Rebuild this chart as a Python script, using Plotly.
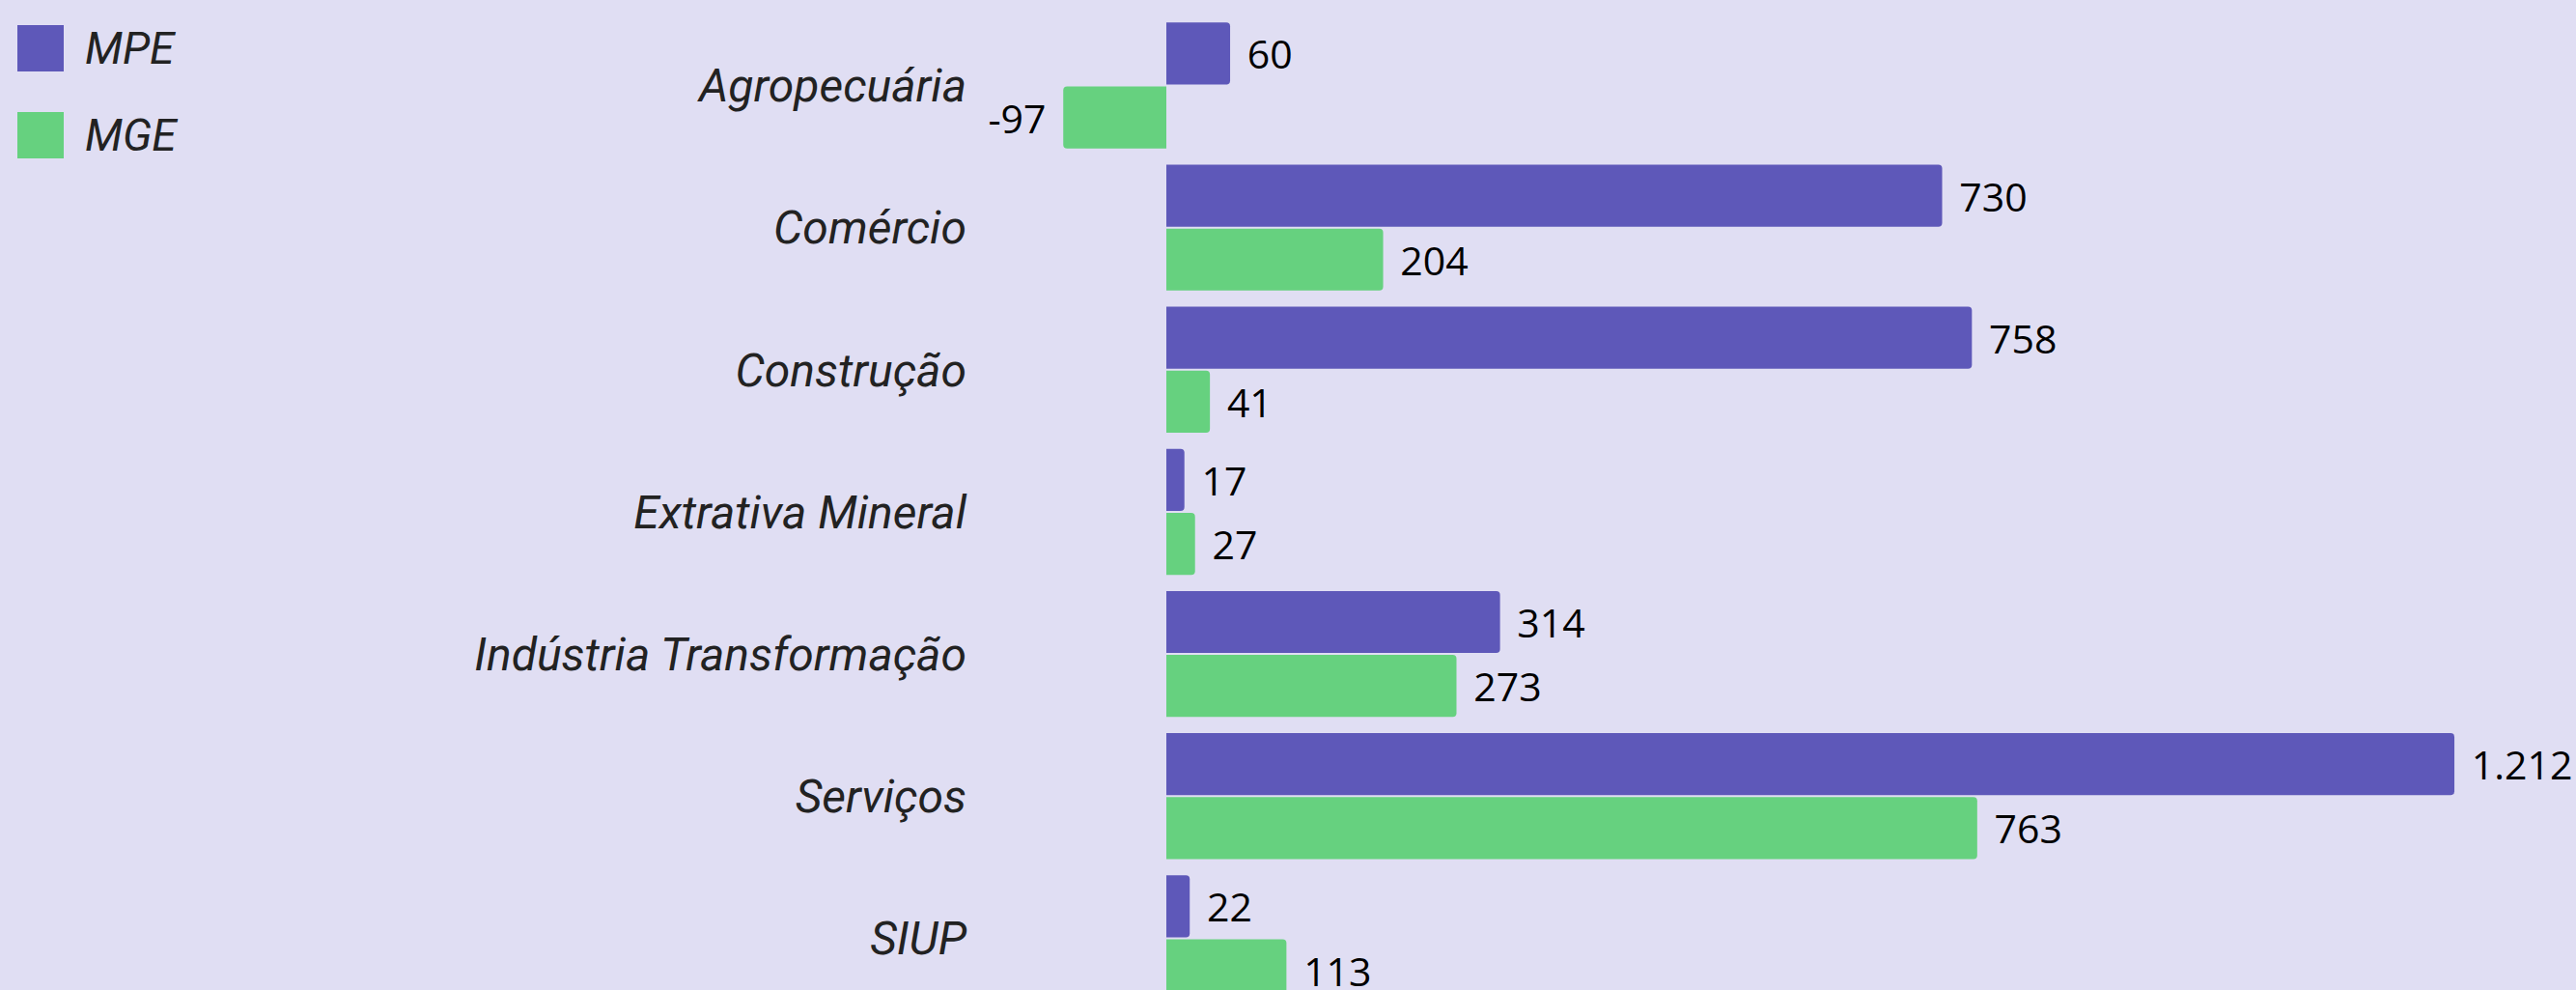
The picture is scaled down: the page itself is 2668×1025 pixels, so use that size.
import plotly.graph_objects as go

categories = ["Agropecuária", "Comércio", "Construção", "Extrativa Mineral",
              "Indústria Transformação", "Serviços", "SIUP"]
mpe = [60, 730, 758, 17, 314, 1212, 22]
mge = [-97, 204, 41, 27, 273, 763, 113]
series_names = ["MPE", "MGE"]
colors = ["#5E58B9", "#66D17F"]

W, H = 2668, 1025
BG = "#E0DEF3"
label_font = "Roboto, sans-serif"
value_font = "Open Sans, Noto Sans, sans-serif"
PAD = "\u00a0\u200a"


def fmt(v):
    s = f"{abs(v):,.0f}".replace(",", ".")
    return ("-" + s + PAD) if v < 0 else (PAD + s)


fig = go.Figure()
for name, vals, col in zip(series_names, [mpe, mge], colors):
    fig.add_trace(go.Bar(
        y=categories, x=vals, name=name, orientation="h",
        marker=dict(color=col, cornerradius=4, line=dict(width=0)),
        text=[fmt(v) for v in vals], texttemplate="%{text}", textposition="outside",
        textfont=dict(family=value_font, size=41, color="#000000"),
        constraintext="none", cliponaxis=False, showlegend=False,
    ))

ml = 1010
zero_px = 1208
ppu = 1.1007
xmin = (ml - zero_px) / ppu
xmax = (W - zero_px) / ppu

top_c = 88.5
pitch = 147.15
y_top = -top_c / pitch
y_bot = (H - top_c) / pitch

fig.update_layout(
    width=W, height=H,
    paper_bgcolor=BG, plot_bgcolor=BG,
    margin=dict(l=ml, r=0, t=0, b=0),
    barmode="group", bargap=0.1, bargroupgap=0.03,
    separators=",.",
    showlegend=False,
    xaxis=dict(range=[xmin, xmax], showgrid=False, zeroline=False,
               showticklabels=False, showline=False, fixedrange=True),
    yaxis=dict(type="category", categoryorder="array", categoryarray=categories,
               range=[y_bot, y_top], showgrid=False, zeroline=False, showline=False,
               ticks="", ticklabelstandoff=8, fixedrange=True,
               tickfont=dict(family=label_font, size=48, color="#222222",
                             style="italic")),
)

# legend drawn manually (large swatches)
leg_items = [(series_names[0], colors[0], 50), (series_names[1], colors[1], 140)]
for name, col, cy in leg_items:
    fig.add_shape(type="rect", xref="paper", yref="paper",
                  x0=(18 - ml) / (W - ml), x1=(66 - ml) / (W - ml),
                  y0=1 - (cy + 24) / H, y1=1 - (cy - 24) / H,
                  fillcolor=col, line=dict(width=0), layer="above")
    fig.add_annotation(xref="paper", yref="paper",
                       x=(86 - ml) / (W - ml), y=1 - cy / H,
                       xanchor="left", yanchor="middle", showarrow=False,
                       text=name,
                       font=dict(family=label_font, size=46, color="#222222",
                                 style="italic"))

fig.write_html("out.html",
               config={"displayModeBar": False},
               post_script=["document.body.style.margin='0';document.body.style.padding='0';"])
